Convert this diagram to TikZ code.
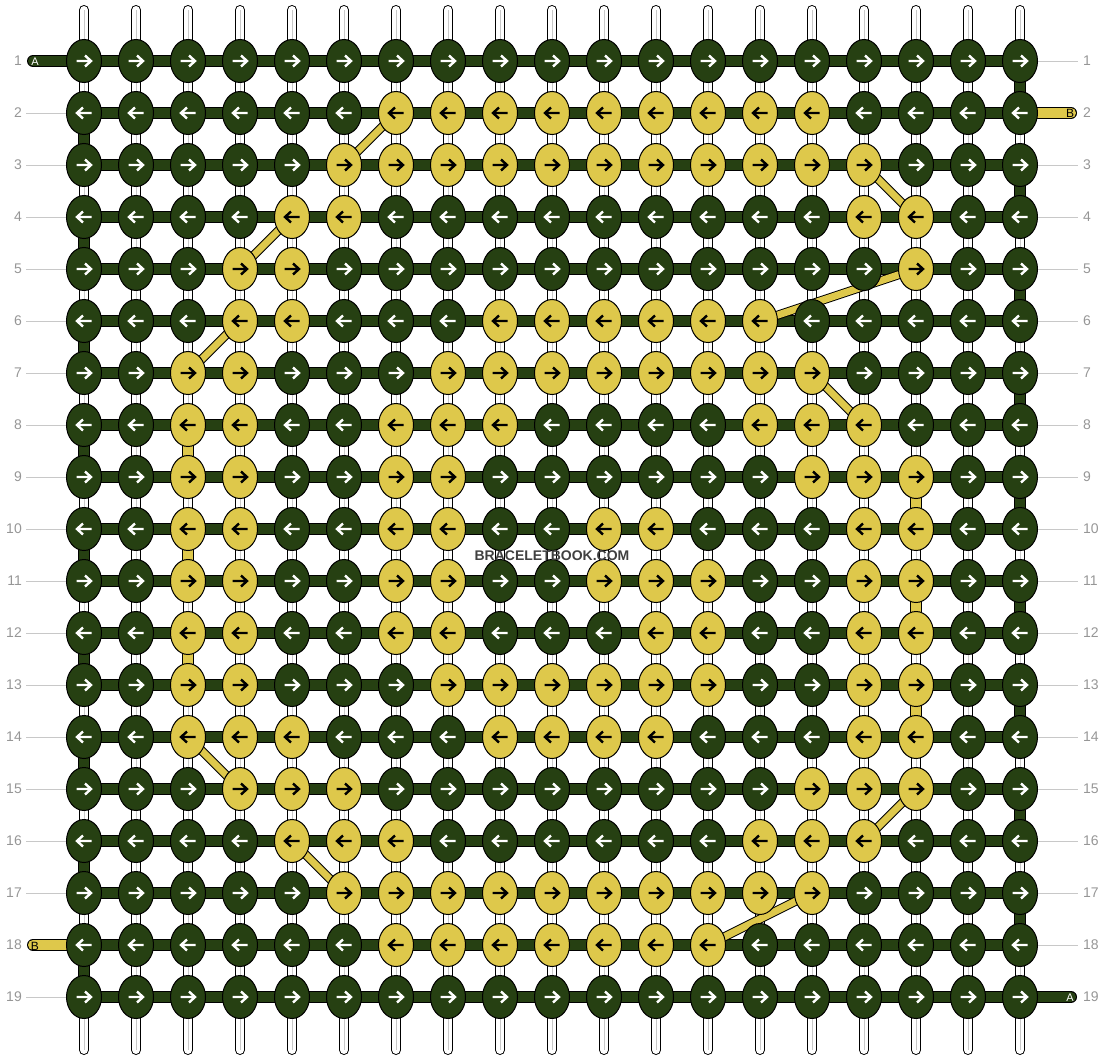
\documentclass[tikz,border=0pt]{standalone}
\usepackage{fontspec}
\setmainfont{Liberation Sans}
\usetikzlibrary{shapes.geometric}

\definecolor{threadA}{RGB}{38,64,18}
\definecolor{threadB}{RGB}{222,200,75}
\definecolor{rowgray}{RGB}{150,150,150}
\definecolor{tickgray}{RGB}{200,200,200}

\tikzset{
  knot0/.style={draw=black, line width=1pt, ellipse, minimum width=35pt, minimum height=43pt, inner sep=0pt, fill=threadA},
  knot1/.style={knot0, fill=threadB},
  arrow0/.style={white, line width=2.4pt},
  arrow1/.style={black, line width=2.4pt},
  strand/.style={draw=black, double=white, double distance=8pt, line width=1pt, line cap=round},
  barA/.style={draw=black, double=threadA, double distance=10pt, line width=1pt, line cap=round},
  barB/.style={barA, double=threadB},
  diag/.style={draw=black, double=threadB, double distance=7pt, line width=1pt, line cap=round},
  rowlbl/.style={text=rowgray, inner sep=0pt, font=\fontsize{14}{16}\selectfont},
  tag/.style={inner sep=0pt, font=\fontsize{11}{13}\selectfont}
}

\begin{document}
\begin{tikzpicture}[x=1pt, y=-1pt]
    \useasboundingbox (0,0) rectangle (1104,1060);

    % grid points
    \foreach \r in {1,...,19}
        \foreach \c in {1,...,19}
            \coordinate (p-\r-\c) at ({32+52*\c},{9+52*\r});

    % vertical strands
    \foreach \c in {1,...,19} {
        \coordinate (top-\c) at ({32+52*\c},10);
        \coordinate (bot-\c) at ({32+52*\c},1050);
        \draw[strand] (top-\c) -- (bot-\c);
        \draw[tickgray, line width=0.8pt] (top-\c) -- (bot-\c);
    }

    % knotting thread, one bar per row
    \foreach \r in {1,...,19}
        \draw[barA] (p-\r-1) -- (p-\r-19);

    % loose ends
    \coordinate (endA1) at (33,61);
    \coordinate (endB2) at (1071,113);
    \coordinate (endB18) at (33,945);
    \coordinate (endA19) at (1071,997);
    \draw[barA] (endA1) -- (p-1-1);
    \draw[barB] (p-2-19) -- (endB2);
    \draw[barB] (endB18) -- (p-18-1);
    \draw[barA] (p-19-19) -- (endA19);
    \node[tag, text=white] (tagA1) at (35,62) {A};
    \node[tag, font=\fontsize{12}{14}\selectfont] (tagB2) at (1070,113) {B};
    \node[tag, font=\fontsize{12}{14}\selectfont] (tagB18) at (35,946) {B};
    \node[tag, text=white] (tagA19) at (1070,998) {A};

    % turns at the edges
    \foreach \r [evaluate=\r as \s using int(\r+1)] in {2,4,...,18}
        \draw[barA] (p-\r-1) -- (p-\s-1);
    \foreach \r [evaluate=\r as \s using int(\r+1)] in {1,3,...,17}
        \draw[barA] (p-\r-19) -- (p-\s-19);

    % yellow thread going straight down
    \foreach \r/\s/\c in {8/9/3, 10/11/3, 12/13/3, 9/10/17, 11/12/17, 13/14/17}
        \draw[barB] (p-\r-\c) -- (p-\s-\c);

    % yellow thread jumping across
    \foreach \ra/\ca/\rb/\cb in {2/7/3/6, 3/16/4/17, 4/5/5/4, 5/17/6/14, 6/4/7/3,
                                 7/15/8/16, 14/3/15/4, 16/5/17/6, 15/17/16/16, 17/15/18/13}
        \draw[diag] (p-\ra-\ca) -- (p-\rb-\cb);

    % knots (0 = green, 1 = yellow)
    \foreach \r/\row in {
         1/{0,0,0,0,0,0,0,0,0,0,0,0,0,0,0,0,0,0,0},
         2/{0,0,0,0,0,0,1,1,1,1,1,1,1,1,1,0,0,0,0},
         3/{0,0,0,0,0,1,1,1,1,1,1,1,1,1,1,1,0,0,0},
         4/{0,0,0,0,1,1,0,0,0,0,0,0,0,0,0,1,1,0,0},
         5/{0,0,0,1,1,0,0,0,0,0,0,0,0,0,0,0,1,0,0},
         6/{0,0,0,1,1,0,0,0,1,1,1,1,1,1,0,0,0,0,0},
         7/{0,0,1,1,0,0,0,1,1,1,1,1,1,1,1,0,0,0,0},
         8/{0,0,1,1,0,0,1,1,1,0,0,0,0,1,1,1,0,0,0},
         9/{0,0,1,1,0,0,1,1,0,0,0,0,0,0,1,1,1,0,0},
        10/{0,0,1,1,0,0,1,1,0,0,1,1,0,0,0,1,1,0,0},
        11/{0,0,1,1,0,0,1,1,0,0,1,1,1,0,0,1,1,0,0},
        12/{0,0,1,1,0,0,1,1,0,0,0,1,1,0,0,1,1,0,0},
        13/{0,0,1,1,0,0,0,1,1,1,1,1,1,0,0,1,1,0,0},
        14/{0,0,1,1,1,0,0,0,1,1,1,1,0,0,0,1,1,0,0},
        15/{0,0,0,1,1,1,0,0,0,0,0,0,0,0,1,1,1,0,0},
        16/{0,0,0,0,1,1,1,0,0,0,0,0,0,1,1,1,0,0,0},
        17/{0,0,0,0,0,1,1,1,1,1,1,1,1,1,1,0,0,0,0},
        18/{0,0,0,0,0,0,1,1,1,1,1,1,1,0,0,0,0,0,0},
        19/{0,0,0,0,0,0,0,0,0,0,0,0,0,0,0,0,0,0,0}} {
        \pgfmathtruncatemacro\dir{1-2*mod(\r+1,2)}
        \foreach \v [count=\c] in \row {
            \node[knot\v] (k-\r-\c) at (p-\r-\c) {};
            \begin{scope}[shift={(p-\r-\c)}, xscale=\dir]
                \draw[arrow\v] (-7.5,0) -- (7,0) (1,-5.5) -- (7,0) -- (1,5.5);
            \end{scope}
        }
    }

    % row numbers
    \foreach \r in {1,...,19} {
        \node[rowlbl, anchor=east] (lrow-\r) at (22,{9+52*\r}) {\r};
        \node[rowlbl, anchor=west] (rrow-\r) at (1083,{9+52*\r}) {\r};
    }
    \foreach \r in {2,...,17}
        \draw[tickgray, line width=1pt] ([xshift=4pt]lrow-\r.east) -- (k-\r-1.west);
    \draw[tickgray, line width=1pt] ([xshift=4pt]lrow-19.east) -- (k-19-1.west);
    \foreach \r in {3,...,18}
        \draw[tickgray, line width=1pt] (k-\r-19.east) -- ([xshift=-5pt]rrow-\r.west);
    \draw[tickgray, line width=1pt] (k-1-19.east) -- ([xshift=-5pt]rrow-1.west);

    \node[text=black!75, inner sep=0pt, font=\bfseries\fontsize{14}{16}\selectfont] (brand) at (552,556) {BRACELETBOOK.COM};
\end{tikzpicture}
\end{document}
